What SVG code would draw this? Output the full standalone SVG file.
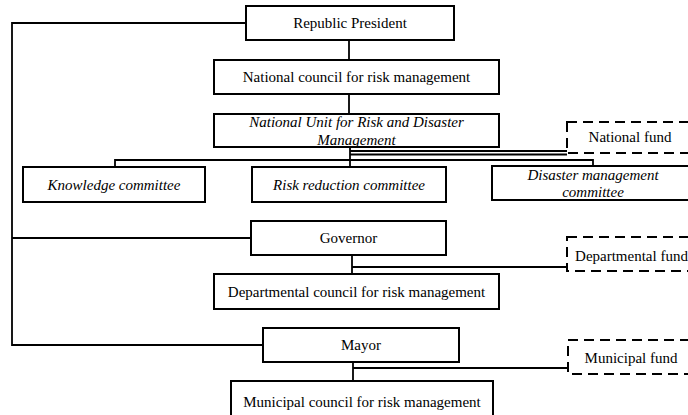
<svg xmlns="http://www.w3.org/2000/svg" width="688" height="415" viewBox="0 0 688 415">
<style>
.box{fill:#fff;stroke:#000;stroke-width:2}
.fund{fill:#fff;stroke:#000;stroke-width:2;stroke-dasharray:10 6}
.t{font-family:'Liberation Serif','Times New Roman',Times,'DejaVu Serif',serif;font-size:15px;fill:#000;text-anchor:middle}
.i{font-style:italic}
.c{fill:none;stroke:#000;stroke-width:1.8}
</style>
<rect width="688" height="415" fill="#fff"/>
<g id="connectors">
<path class="c" d="M246,23 H12 V345 H263"/>
<path class="c" d="M12,238 H251"/>
<path class="c" d="M349,40 V60"/>
<path class="c" d="M349,94 V114"/>
<path class="c" d="M350,147 V167"/>
<path class="c" d="M115,167 V160 H593 V166"/>
<path class="c" d="M350,151 H567"/>
<path class="c" d="M350,154.5 H567"/>
<path class="c" d="M352,255 V274"/>
<path class="c" d="M352,267 H567"/>
<path class="c" d="M353,362 V381"/>
<path class="c" d="M353,368 H568"/>
</g>
<g id="president">
<rect class="box" x="246" y="6" width="208" height="34"/>
<text class="t" x="350" y="28" font-family="Liberation Serif, serif">Republic President</text>
</g>
<g id="national-council">
<rect class="box" x="214" y="60" width="285" height="34"/>
<text class="t" x="356.5" y="82">National council for risk management</text>
</g>
<g id="national-unit">
<rect class="box" x="214" y="114" width="285" height="33"/>
<text class="t i" x="356.5" y="127">National Unit for Risk and Disaster</text>
<text class="t i" x="356.5" y="145">Management</text>
</g>
<g id="national-fund">
<rect class="fund" x="567" y="122" width="126" height="31"/>
<text class="t" x="630" y="142">National fund</text>
</g>
<g id="knowledge">
<rect class="box" x="23" y="167" width="182" height="35"/>
<text class="t i" x="114" y="189.5">Knowledge committee</text>
</g>
<g id="risk-reduction">
<rect class="box" x="252" y="167" width="194" height="35"/>
<text class="t i" x="349" y="189.5">Risk reduction committee</text>
</g>
<g id="disaster">
<rect class="box" x="492" y="166" width="202" height="34"/>
<text class="t i" x="593" y="180">Disaster management</text>
<text class="t i" x="593" y="197">committee</text>
</g>
<g id="governor">
<rect class="box" x="251" y="221" width="195" height="34"/>
<text class="t" x="348.5" y="243">Governor</text>
</g>
<g id="departmental-fund">
<rect class="fund" x="567" y="237" width="128" height="34"/>
<text class="t" x="631.5" y="260.5">Departmental fund</text>
</g>
<g id="departmental-council">
<rect class="box" x="214" y="274" width="285" height="35"/>
<text class="t" x="356.5" y="296.5">Departmental council for risk management</text>
</g>
<g id="mayor">
<rect class="box" x="263" y="328" width="196" height="34"/>
<text class="t" x="361" y="350">Mayor</text>
</g>
<g id="municipal-fund">
<rect class="fund" x="568" y="340" width="126" height="34"/>
<text class="t" x="631" y="363">Municipal fund</text>
</g>
<g id="municipal-council">
<rect class="box" x="231" y="381" width="262" height="40"/>
<text class="t" x="362" y="406.5">Municipal council for risk management</text>
</g>
</svg>
